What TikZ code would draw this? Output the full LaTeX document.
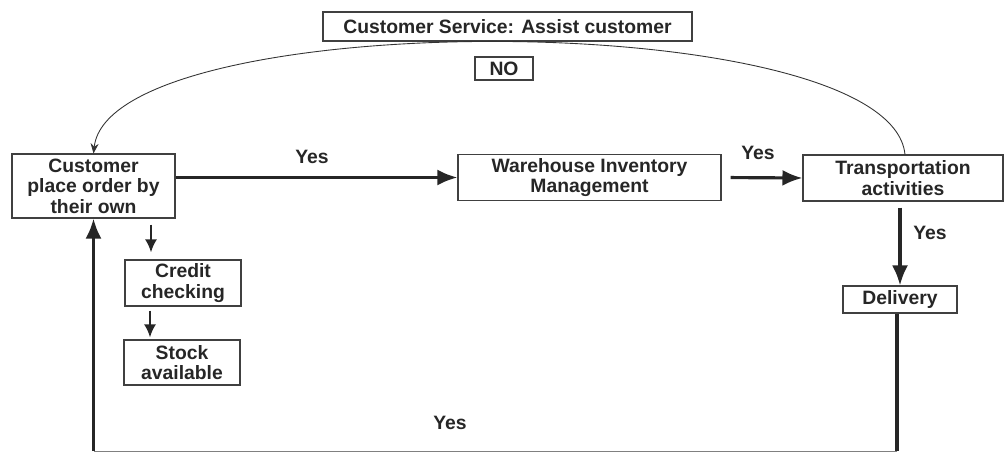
\documentclass[tikz,border=0pt]{standalone}
\usepackage{fontspec}
\setmainfont{Liberation Sans}
\usetikzlibrary{arrows.meta,positioning,calc}
\tikzset{
  box/.style={draw=black!75, line width=0.6pt, align=center, font=\bfseries\fontsize{11}{11.6}\selectfont, text=black!85, inner sep=2pt},
  flow/.style={-{Latex[length=4mm,width=3.2mm]}, line width=1.8pt, black!85},
  smallflow/.style={-{Latex[length=2.6mm,width=2.4mm]}, line width=1.3pt, black!85},
  loop/.style={line width=1.8pt, black!85},
  curve/.style={-{Stealth[length=2mm,width=1.6mm]}, line width=0.5pt, black!80},
  lbl/.style={font=\bfseries\fontsize{11}{12}\selectfont, text=black!85}
}

\begin{document}
\begin{tikzpicture}
  \useasboundingbox (0,0) rectangle (20.08,-9.06);
  % boxes
  \node[box, minimum width=7.38cm, minimum height=0.58cm] (service) at (10.15,-0.53) {Customer Service: Assist customer};
  \node[box, minimum width=1.16cm, minimum height=0.46cm] (no) at (10.08,-1.37) {NO};
  \node[box, minimum width=3.26cm, minimum height=1.28cm] (customer) at (1.87,-3.72) {Customer\\place order by\\their own};
  \node[box, minimum width=5.26cm, minimum height=0.92cm] (warehouse) at (11.79,-3.55) {Warehouse Inventory\\Management};
  \node[box, minimum width=4.0cm, minimum height=0.92cm] (transport) at (18.06,-3.56) {Transportation\\activities};
  \node[box, minimum width=2.28cm, minimum height=0.54cm] (delivery) at (18.0,-5.99) {Delivery};
  \node[box, minimum width=2.32cm, minimum height=0.92cm] (credit) at (3.66,-5.66) {Credit\\checking};
  \node[box, minimum width=2.32cm, minimum height=0.9cm] (stock) at (3.64,-7.25) {Stock\\available};

  % labels
  \node[lbl] (yesA) at (6.24,-3.14) {Yes};
  \node[lbl] (yesB) at (15.16,-3.06) {Yes};
  \node[lbl] (yesC) at (18.6,-4.66) {Yes};
  \node[lbl] (yesD) at (9.0,-8.46) {Yes};

  \coordinate (botR) at ($(delivery.south |- 0,-9.02)+(-0.06,0)$);
  \coordinate (botL) at (customer.south |- 0,-9.02);

  % main flow
  \draw[flow] (customer.east |- warehouse.west) -- (warehouse.west);
  \draw[flow, shorten <=0.18cm] (warehouse.east) -- (transport.west);
  \draw[flow, shorten <=0.12cm] (transport.south -| delivery.north) -- (delivery.north);
  \draw[smallflow, shorten <=0.12cm, shorten >=0.14cm] ([xshift=-0.64cm]customer.south -| credit.north) -- ([xshift=-0.64cm]credit.north);
  \draw[smallflow, shorten <=0.08cm, shorten >=0.04cm] ([xshift=-0.66cm]credit.south) -- ([xshift=-0.66cm]credit.south |- stock.north);

  % return loop
  \draw[loop] ([xshift=-0.06cm]delivery.south) -- (botR);
  \draw[line width=0.5pt, black!50] (botR) -- (botL);
  \draw[flow] (botL) -- (customer.south);

  % NO branch
  \draw[curve] ([xshift=0.04cm]transport.north) .. controls (17.8,-0.1) and (2.2,-0.1) .. (customer.north);
\end{tikzpicture}
\end{document}
